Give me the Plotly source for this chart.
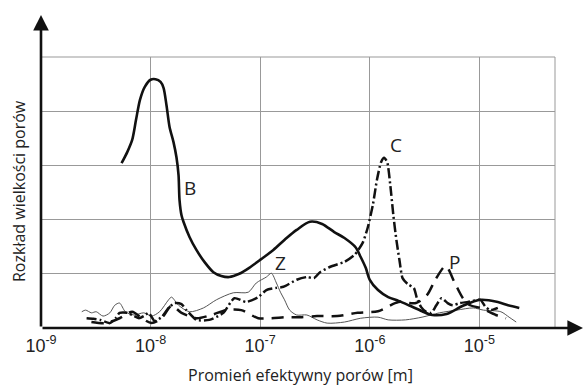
import plotly.graph_objects as go

# ---- data: log10 of effective pore radius [m] and pore size distribution (grid units) ----
B_logr = [-8.265, -8.212, -8.168, -8.133, -8.097, -8.053, -8.0, -7.955, -7.909, -7.882,
          -7.855, -7.827, -7.791, -7.764, -7.745, -7.736, -7.718, -7.7, -7.645, -7.582,
          -7.509, -7.427, -7.355, -7.282, -7.191, -7.1, -6.991, -6.88, -6.759, -6.667,
          -6.546, -6.435, -6.324, -6.231, -6.13, -6.083, -6.037, -6.0, -5.925, -5.832,
          -5.738, -5.645, -5.523, -5.43, -5.299, -5.15, -4.991, -4.832, -4.738, -4.636]
B_v = [3.04, 3.25, 3.47, 3.84, 4.21, 4.45, 4.58, 4.59, 4.54, 4.43,
       4.11, 3.71, 3.43, 3.15, 2.82, 2.36, 2.08, 1.96, 1.68, 1.44,
       1.22, 1.03, 0.96, 0.94, 1.00, 1.11, 1.27, 1.44, 1.66, 1.81,
       1.96, 1.92, 1.77, 1.66, 1.49, 1.31, 1.11, 0.89, 0.70, 0.57,
       0.50, 0.42, 0.31, 0.24, 0.26, 0.41, 0.52, 0.48, 0.42, 0.37]

C_logr = [-8.584, -8.522, -8.460, -8.372, -8.319, -8.283, -8.212, -8.150, -8.106, -8.062,
          -8.018, -7.964, -7.900, -7.836, -7.782, -7.718, -7.673, -7.582, -7.464, -7.336,
          -7.236, -7.127, -7.018, -6.944, -6.852, -6.787, -6.667, -6.574, -6.509, -6.454,
          -6.361, -6.231, -6.139, -6.065, -6.019, -5.972, -5.935, -5.897, -5.869, -5.841,
          -5.813, -5.785, -5.757, -5.729, -5.701, -5.654, -5.598, -5.570, -5.533, -5.486,
          -5.439, -5.393, -5.346, -5.290, -5.243, -5.178, -5.103, -4.991, -4.944, -4.897,
          -4.832]
C_v = [0.18, 0.17, 0.15, 0.09, 0.18, 0.28, 0.28, 0.22, 0.18, 0.22,
       0.28, 0.13, 0.20, 0.37, 0.46, 0.44, 0.33, 0.15, 0.15, 0.28,
       0.55, 0.48, 0.57, 0.70, 0.74, 0.76, 0.89, 0.94, 0.92, 1.03,
       1.13, 1.22, 1.35, 1.57, 1.85, 2.27, 2.73, 3.06, 3.14, 3.06,
       2.64, 2.08, 1.62, 1.25, 0.92, 0.81, 0.74, 0.55, 0.39, 0.30,
       0.28, 0.42, 0.55, 0.46, 0.42, 0.46, 0.48, 0.52, 0.39, 0.33,
       0.37]

P_logr = [-8.540, -8.407, -8.283, -8.168, -8.080, -7.991, -7.900, -7.809, -7.718, -7.582,
          -7.445, -7.309, -7.173, -7.082, -7.018, -6.898, -6.759, -6.620, -6.481, -6.296,
          -6.111, -5.925, -5.738, -5.579, -5.477, -5.402, -5.308, -5.224, -5.150, -5.084,
          -4.991, -4.850, -4.757]
P_v = [0.11, 0.09, 0.18, 0.30, 0.18, 0.09, 0.18, 0.41, 0.28, 0.18,
       0.24, 0.33, 0.33, 0.24, 0.18, 0.18, 0.20, 0.20, 0.22, 0.22,
       0.28, 0.31, 0.48, 0.46, 0.61, 0.89, 1.14, 0.83, 0.55, 0.42,
       0.37, 0.24, 0.18]

Z_logr = [-8.628, -8.593, -8.540, -8.496, -8.434, -8.372, -8.327, -8.283, -8.230, -8.150,
          -8.062, -7.991, -7.918, -7.836, -7.809, -7.745, -7.645, -7.518, -7.400, -7.245,
          -7.109, -7.036, -6.944, -6.898, -6.852, -6.815, -6.778, -6.731, -6.667, -6.574,
          -6.481, -6.389, -6.231, -6.083, -5.925, -5.832, -5.673, -5.523, -5.364, -5.206,
          -5.056, -4.963, -4.804, -4.729, -4.664]
Z_v = [0.30, 0.33, 0.28, 0.30, 0.22, 0.28, 0.42, 0.46, 0.30, 0.24,
       0.28, 0.22, 0.30, 0.52, 0.57, 0.42, 0.30, 0.37, 0.52, 0.65,
       0.66, 0.83, 0.94, 1.01, 0.83, 0.66, 0.52, 0.33, 0.24, 0.24,
       0.15, 0.09, 0.11, 0.18, 0.20, 0.15, 0.15, 0.20, 0.28, 0.33,
       0.37, 0.33, 0.30, 0.20, 0.11]

x_ticks = [1e-9, 1e-8, 1e-7, 1e-6, 1e-5]
x_ticktext = ["10<sup>-9</sup>", "10<sup>-8</sup>", "10<sup>-7</sup>", "10<sup>-6</sup>", "10<sup>-5</sup>"]
y_grid = [1, 2, 3, 4, 5]

curve_labels = ["B", "C", "Z", "P"]
label_logr = [-7.645, -5.757, -6.815, -5.224]
label_v = [2.58, 3.38, 1.20, 1.22]


def to_r(logs):
    return [10 ** e for e in logs]


# ---- figure ----
fig = go.Figure()
fig.add_trace(go.Scatter(x=to_r(Z_logr), y=Z_v, mode="lines",
                         line=dict(color="#555555", width=1, shape="spline", smoothing=0.8)))
fig.add_trace(go.Scatter(x=to_r(P_logr), y=P_v, mode="lines",
                         line=dict(color="#111111", width=2.5, dash="12px,8px", shape="spline", smoothing=0.8)))
fig.add_trace(go.Scatter(x=to_r(C_logr), y=C_v, mode="lines",
                         line=dict(color="#111111", width=2.5, dash="10px,3px,2px,3px", shape="spline", smoothing=0.6)))
fig.add_trace(go.Scatter(x=to_r(B_logr), y=B_v, mode="lines",
                         line=dict(color="#111111", width=2.6, shape="spline", smoothing=0.8)))

label_font = dict(family="Open Sans, Noto Sans, sans-serif", size=19, color="#222222")
for t, xl, yv in zip(curve_labels, label_logr, label_v):
    # annotations on a log axis take log10 coordinates
    fig.add_annotation(x=xl, y=yv, xref="x", yref="y", text=t, showarrow=False, font=label_font)

grid_col = "#999999"
fig.update_layout(
    width=586, height=385,
    margin=dict(l=41, r=31, t=57, b=57),
    paper_bgcolor="white", plot_bgcolor="white",
    showlegend=False,
    xaxis=dict(type="log", range=[-9, -4.31], tickvals=x_ticks, ticktext=x_ticktext,
               showgrid=True, gridcolor=grid_col, gridwidth=1, zeroline=False, showline=False,
               ticks="", ticklabelstandoff=5,
               tickfont=dict(family="Liberation Sans Narrow, Arial Narrow, Liberation Sans, Arial",
                             size=18, color="#222222")),
    yaxis=dict(range=[0, 5], tickvals=y_grid, showticklabels=False, showgrid=True,
               gridcolor=grid_col, gridwidth=1, zeroline=False, showline=False, ticks=""),
)

# border lines (top and right of grid)
fig.add_shape(type="line", xref="paper", yref="paper", x0=0, x1=1, y0=1, y1=1, line=dict(color=grid_col, width=1))
fig.add_shape(type="line", xref="paper", yref="paper", x0=1, x1=1, y0=0, y1=1, line=dict(color=grid_col, width=1))

# axis arrows
fig.add_annotation(xref="paper", yref="paper", x=(583 - 41) / 514, y=0, ax=-542, ay=0, axref="pixel", ayref="pixel",
                   text="", showarrow=True, arrowhead=2, arrowsize=1.2, arrowwidth=2.6, arrowcolor="#111111")
fig.add_annotation(xref="paper", yref="paper", x=0, y=(328 - 15) / 271, ax=0, ay=313, axref="pixel", ayref="pixel",
                   text="", showarrow=True, arrowhead=2, arrowsize=1.2, arrowwidth=2.6, arrowcolor="#111111")

# axis titles
title_font = dict(family="Open Sans, Noto Sans, sans-serif", size=16, color="#222222")
fig.add_annotation(xref="paper", yref="paper", x=(300 - 41) / 514, y=(328 - 375) / 271,
                   text="Promień efektywny porów [m]",
                   showarrow=False, font=title_font, xanchor="center", yanchor="middle")
fig.add_annotation(xref="paper", yref="paper", x=(19 - 41) / 514, y=(328 - 191) / 271,
                   text="Rozkład wielkości porów",
                   showarrow=False, font=title_font, textangle=-90, xanchor="center", yanchor="middle")

fig.write_html("out.html")
